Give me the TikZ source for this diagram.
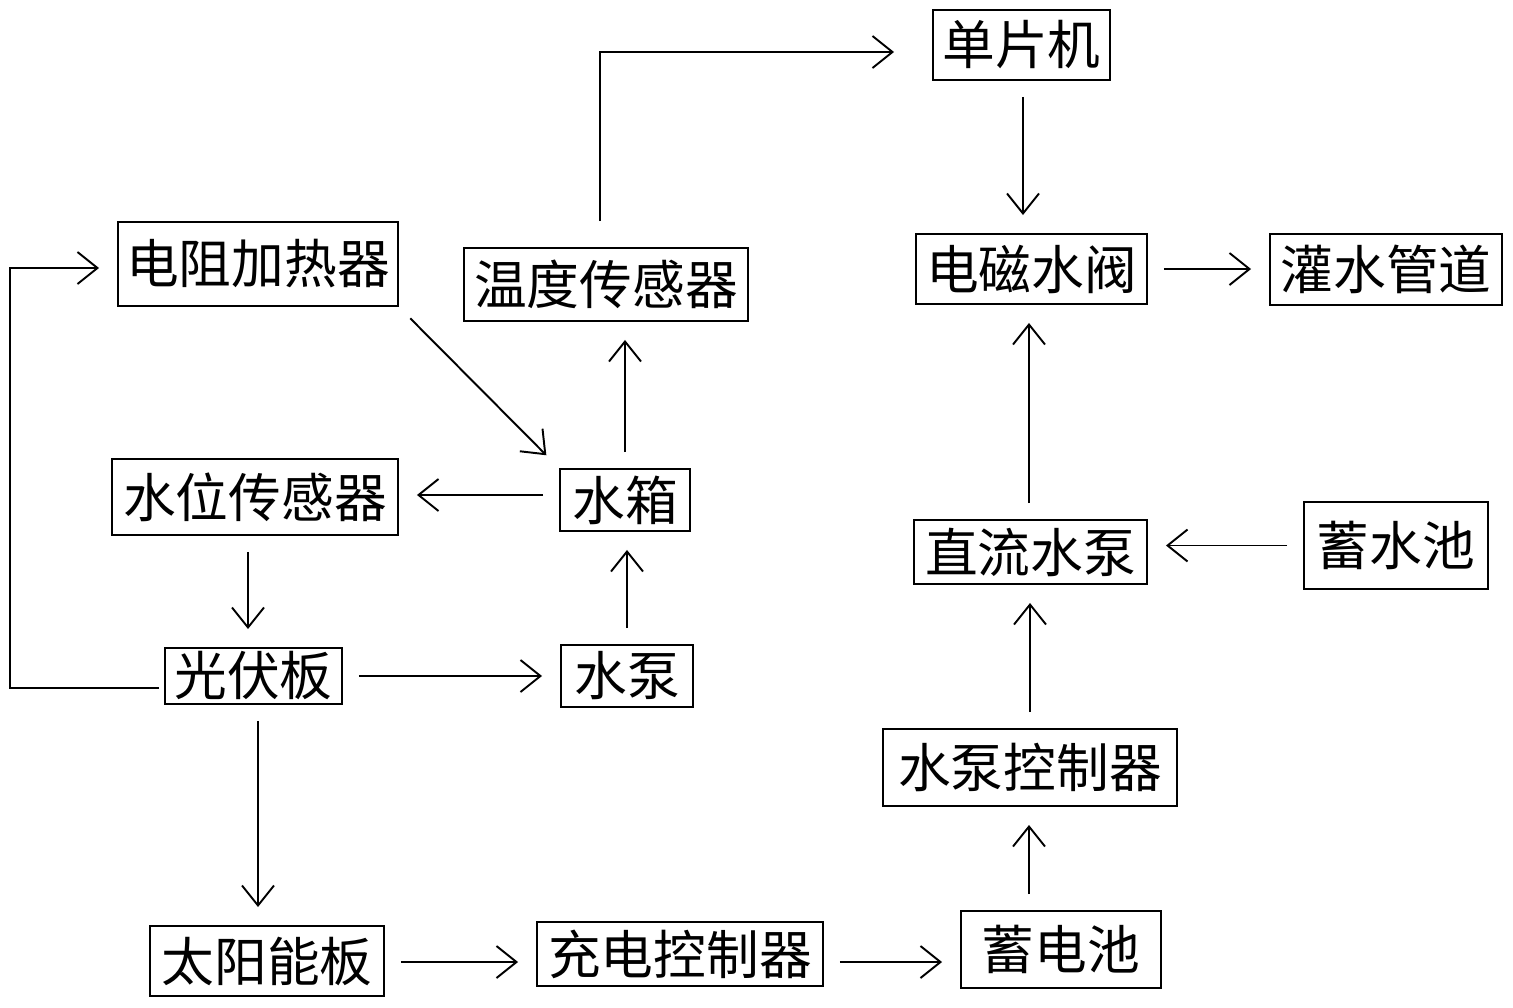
\documentclass[tikz,border=0pt]{standalone}
\usepackage{fontspec}
\newfontfamily\cjk{Noto Sans CJK SC}
\usetikzlibrary{arrows.meta}
\usetikzlibrary{positioning}
\tikzset{
    block/.style={draw,line width=0.55pt,inner sep=0pt,font=\cjk\fontsize{15}{15}\selectfont},
}

\begin{document}
\begin{tikzpicture}[->,>={Straight Barb[length=2mm,width=3.2mm]},line width=0.55pt,shorten >=1.8mm,shorten <=1.6mm]
		\useasboundingbox (0,0) rectangle (15.13,-10.07);
		
		% left part
		\node[block,minimum width=2.80cm,minimum height=0.84cm] (heater) at (2.58,-2.64) {电阻加热器};
		\node[block,minimum width=2.84cm,minimum height=0.73cm] (temp) at (6.06,-2.845) {温度传感器};
		\node[block,minimum width=2.86cm,minimum height=0.76cm] (level) at (2.55,-4.97) {水位传感器};
		\node[block,minimum width=1.30cm,minimum height=0.62cm] (tank) at (6.25,-5.00) {水箱};
		\node[block,minimum width=1.77cm,minimum height=0.56cm] (pv) at (2.535,-6.76) {光伏板};
		\node[block,minimum width=1.32cm,minimum height=0.62cm] (pump) at (6.27,-6.76) {水泵};
		\node[block,minimum width=2.34cm,minimum height=0.70cm] (solar) at (2.67,-9.61) {太阳能板};
		\node[block,minimum width=2.86cm,minimum height=0.64cm] (charge) at (6.80,-9.54) {充电控制器};
		
		% right part
		\node[block,minimum width=1.77cm,minimum height=0.70cm] (mcu) at (10.215,-0.45) {单片机};
		\node[block,minimum width=2.31cm,minimum height=0.70cm] (valve) at (10.315,-2.69) {电磁水阀};
		\node[block,minimum width=2.32cm,minimum height=0.71cm] (pipe) at (13.86,-2.695) {灌水管道};
		\node[block,minimum width=2.33cm,minimum height=0.64cm] (dcpump) at (10.305,-5.52) {直流水泵};
		\node[block,minimum width=1.84cm,minimum height=0.87cm] (pool) at (13.96,-5.455) {蓄水池};
		\node[block,minimum width=2.94cm,minimum height=0.77cm] (ctrl) at (10.30,-7.675) {水泵控制器};
		\node[block,minimum width=2.00cm,minimum height=0.77cm] (battery) at (10.61,-9.495) {蓄电池};
		
		\coordinate (loop) at (0.10,-6.88);
		
		\path
		(heater.south east) edge (tank.north west)
		(tank.north) edge (tank.north |- temp.south)
		(tank.west |- 0,-4.95) edge (level.east |- 0,-4.95)
		(level.south -| 2.48,0) edge (2.48,0 |- pv.north)
		(pv.east) edge (pump.west)
		(pump.north) edge (pump.north |- tank.south)
		(pv.south -| 2.58,0) edge (2.58,0 |- solar.north)
		(solar.east |- 0,-9.62) edge (charge.west |- 0,-9.62)
		(charge.east |- 0,-9.62) edge (battery.west |- 0,-9.62)
		(battery.north -| 10.29,0) edge (10.29,0 |- ctrl.south)
		(ctrl.north) edge (ctrl.north |- dcpump.south)
		(pool.west) edge (pool.west -| dcpump.east)
		(dcpump.north -| 10.29,0) edge (10.29,0 |- valve.south)
		(mcu.south -| 10.23,0) edge (10.23,0 |- valve.north)
		(valve.east) edge (valve.east -| pipe.west);
		
		\draw[shorten <=2.6mm,shorten >=3.8mm] (temp.north -| 6.00,0) |- (mcu.west |- 0,-0.52);
		\draw[shorten <=0.5mm] (pv.west |- loop) -- (loop) |- (heater.west |- 0,-2.68);
		\end{tikzpicture}
\end{document}
